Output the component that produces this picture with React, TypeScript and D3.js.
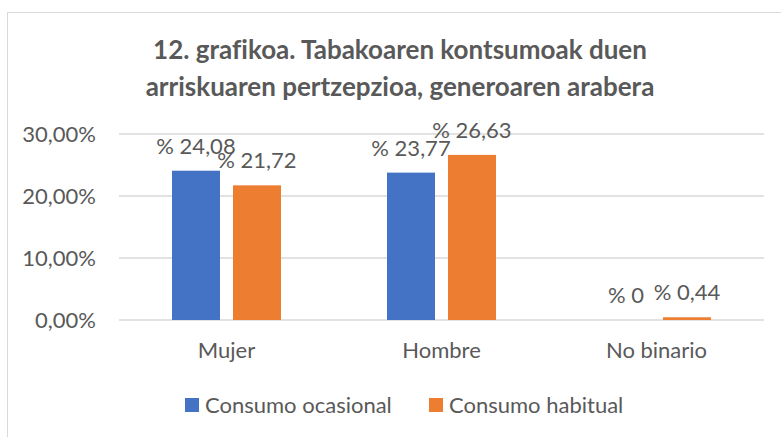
import React from "react";
import * as d3 from "d3";

const categories = ["Mujer", "Hombre", "No binario"];
const seriesNames = ["Consumo ocasional", "Consumo habitual"];
const ocasional = [24.08, 23.77, 0];
const habitual = [21.72, 26.63, 0.44];
const yTicks = [0, 10, 20, 30];
const titleLines = [
  "12. grafikoa. Tabakoaren kontsumoak duen",
  "arriskuaren pertzepzioa, generoaren arabera",
];
const colors = ["#4472C4", "#ED7D31"];

const W = 781;
const H = 437;
const FONT = "Lato, 'Open Sans', sans-serif";
const TXT = "#595959";
const FS = 22;

export default function App() {
  const seriesValues = [ocasional, habitual];
  const x = d3.scaleBand<string>().domain(categories).range([119, 764]).padding(0);
  const xi = d3
    .scaleBand<string>()
    .domain(seriesNames)
    .range([0, x.bandwidth()])
    .paddingInner(13 / 61)
    .paddingOuter(0.869);
  const y = d3.scaleLinear().domain([0, 30]).range([320, 134]);
  const fmtTick = (v: number) => d3.format(".2f")(v).replace(".", ",") + "%";
  const fmtLabel = (v: number) => "% " + String(v).replace(".", ",");
  const txtStyle = { fontVariantLigatures: "none" as const };

  return (
    <svg width={W} height={H} style={{ position: "absolute", left: 0, top: 0, background: "#fff" }}>
      <rect x={0} y={0} width={W} height={H} fill="#fff" />
      <rect x={7.5} y={12.5} width={W + 20} height={H + 20} fill="none" stroke="#d9d9d9" strokeWidth={1} />
      {titleLines.map((t, i) => (
        <text
          key={i}
          x={400}
          y={59 + i * 37}
          textAnchor="middle"
          fontFamily={FONT}
          fontWeight="bold"
          fontSize={26}
          fill={TXT}
          style={txtStyle}
        >
          {t}
        </text>
      ))}
      {yTicks.map((t) => (
        <g key={t}>
          <line x1={119} x2={764} y1={y(t)} y2={y(t)} stroke="#d9d9d9" strokeWidth={1.5} />
          <text x={96} y={y(t) + 8} textAnchor="end" fontFamily={FONT} fontSize={FS} fill={TXT}>
            {fmtTick(t)}
          </text>
        </g>
      ))}
      {categories.map((c, ci) => (
        <g key={c}>
          {seriesNames.map((s, si) => {
            const v = seriesValues[si][ci];
            const bx = (x(c) ?? 0) + (xi(s) ?? 0);
            const bw = xi.bandwidth();
            return (
              <g key={s}>
                {v > 0 && (
                  <rect x={bx} y={y(v)} width={bw} height={y(0) - y(v)} fill={colors[si]} />
                )}
                <text
                  x={bx + bw / 2}
                  y={y(v) - 17}
                  textAnchor="middle"
                  fontFamily={FONT}
                  fontSize={FS}
                  fill={TXT}
                >
                  {fmtLabel(v)}
                </text>
              </g>
            );
          })}
          <text
            x={(x(c) ?? 0) + x.bandwidth() / 2}
            y={358}
            textAnchor="middle"
            fontFamily={FONT}
            fontSize={FS}
            fill={TXT}
          >
            {c}
          </text>
        </g>
      ))}
      {seriesNames.map((s, si) => {
        const lx = si === 0 ? 185 : 429;
        return (
          <g key={s}>
            <rect x={lx} y={398} width={14} height={14} fill={colors[si]} />
            <text x={lx + 20} y={413} fontFamily={FONT} fontSize={FS} fill={TXT}>
              {s}
            </text>
          </g>
        );
      })}
    </svg>
  );
}
